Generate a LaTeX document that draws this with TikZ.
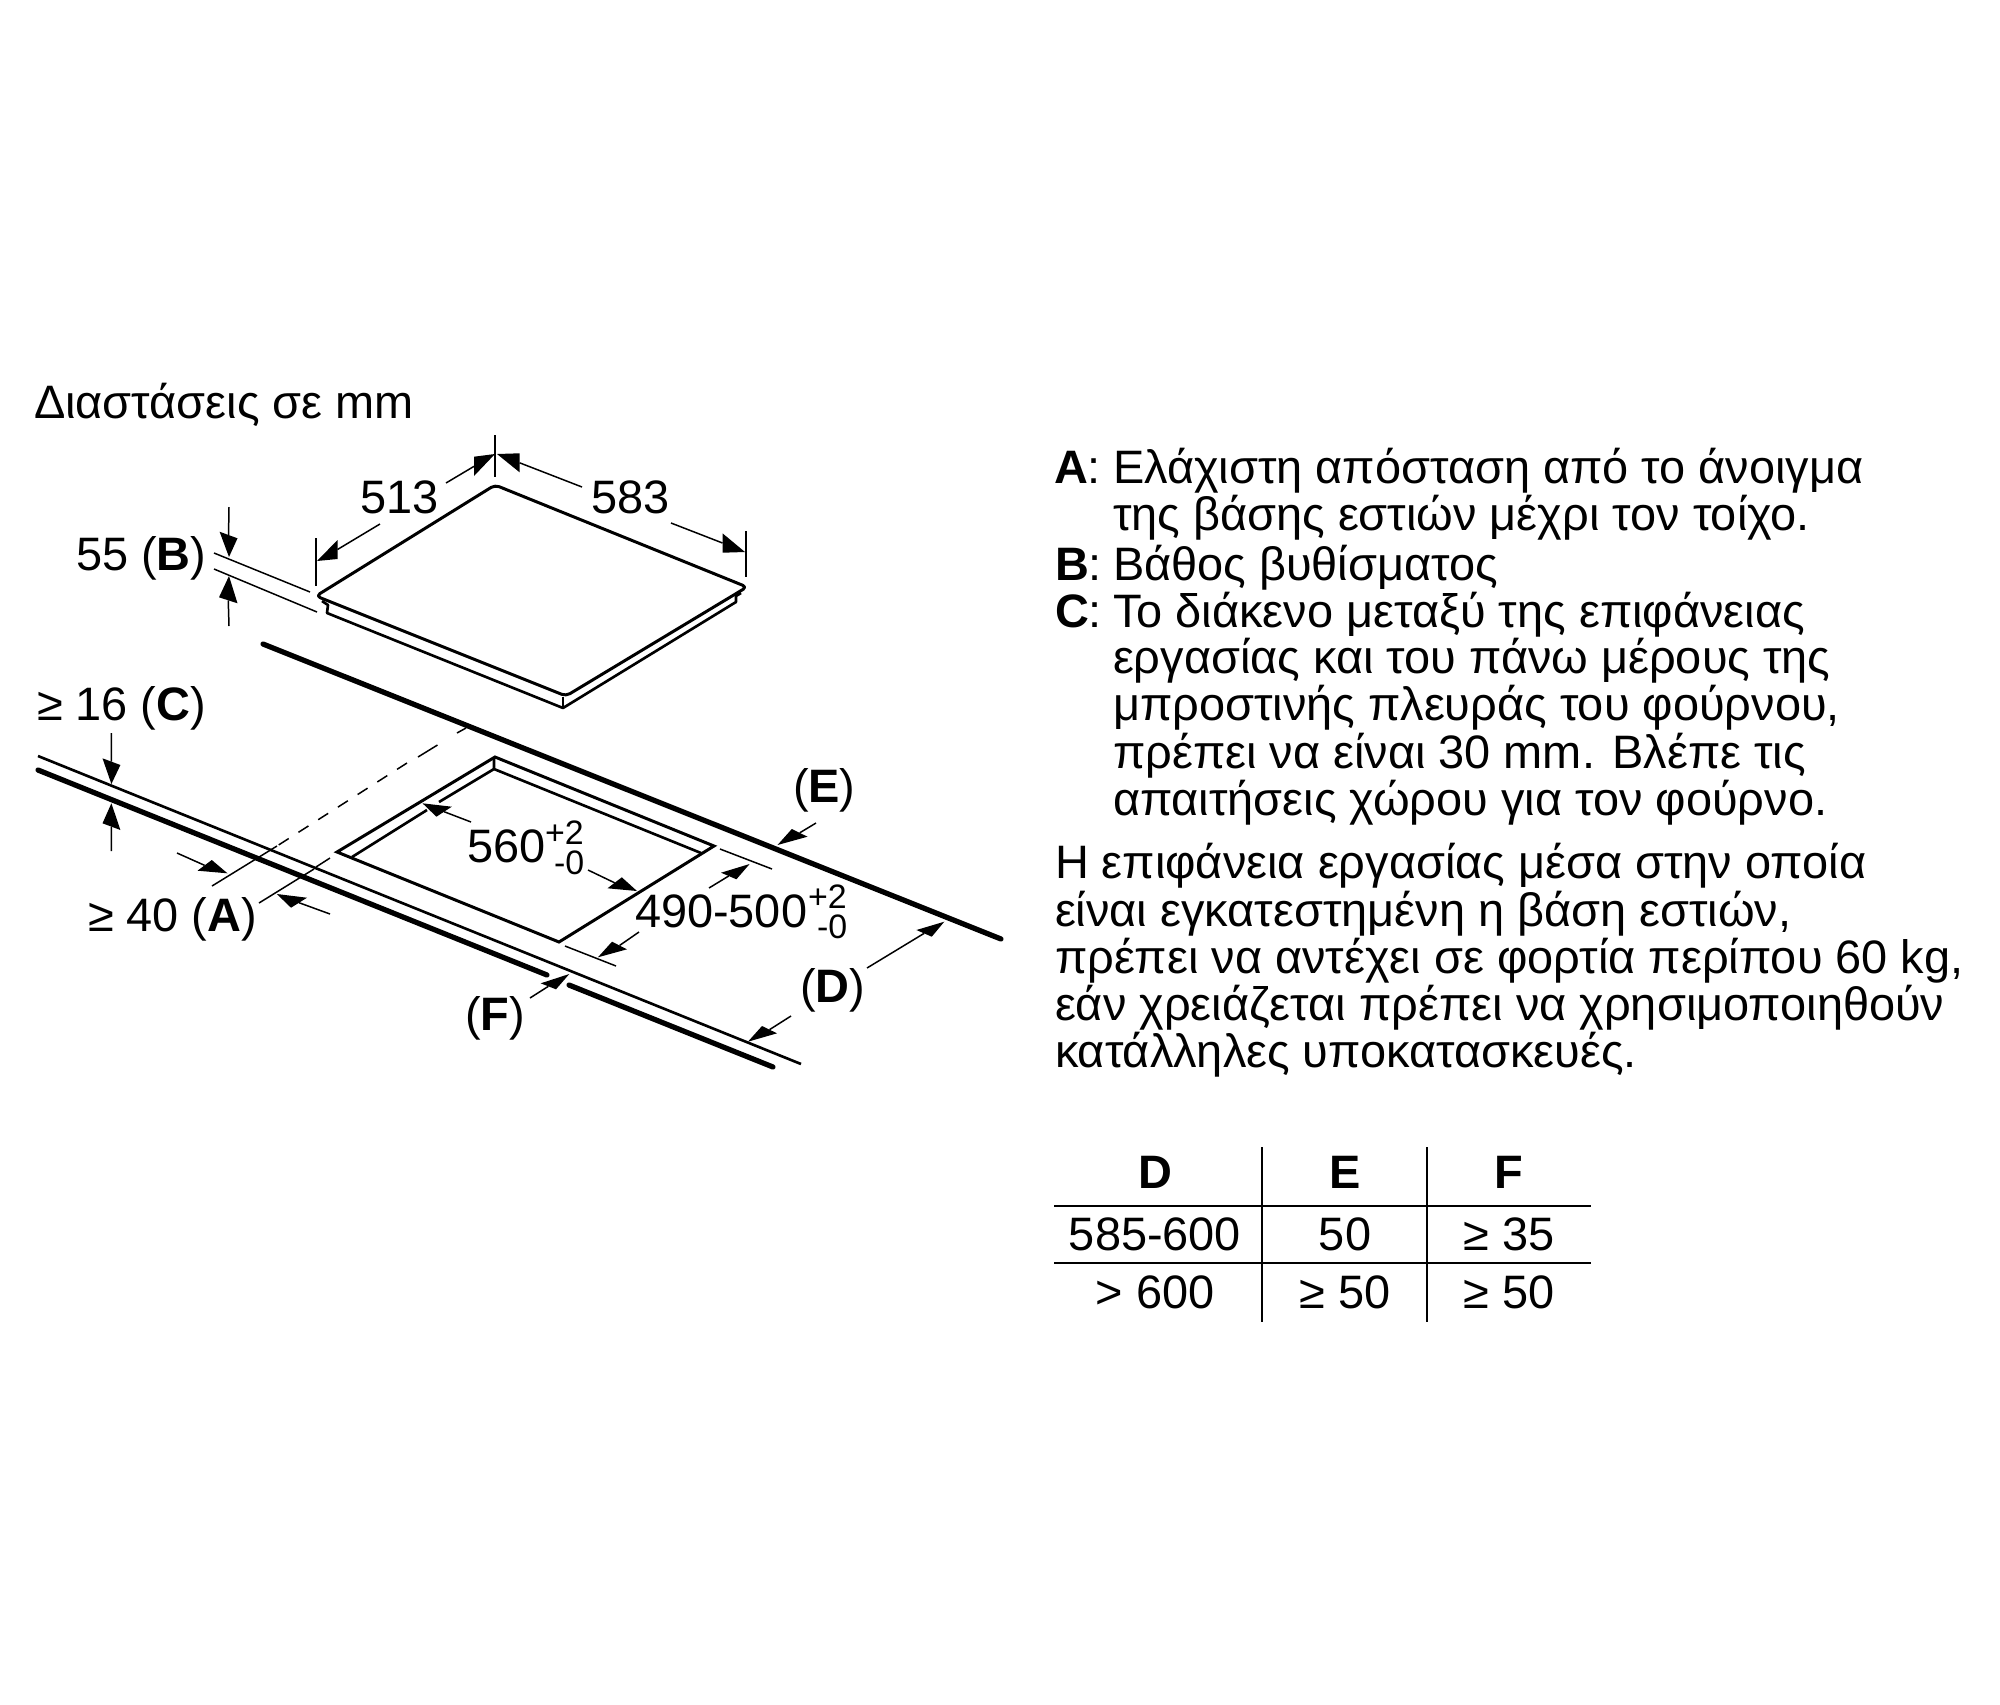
\documentclass[tikz,border=0pt]{standalone}
\usepackage{fontspec}
\setmainfont{Liberation Sans}
\usetikzlibrary{calc}
\newcommand\dimline[4]{\draw[thinl] (#1) -- ($(#3)!.5!(#4)$); \fill (#2) -- (#3) -- (#4) -- cycle;}
\tikzset{
  txt/.style={inner sep=0pt,outer sep=0pt,anchor=base west,text=black,font=\fontsize{26.7}{31}\selectfont},
  ctr/.style={txt,anchor=base},
  supt/.style={txt,font=\fontsize{19.3}{22}\selectfont},
  thinl/.style={line width=0.85pt,line cap=butt},
  outl/.style={line width=1.7pt,line join=round},
  heavy/.style={line width=3.0pt,line cap=round},
  dashline/.style={line width=0.85pt,dash pattern=on 0.236cm off 0.232cm},
  tabrule/.style={line width=1.25pt}
}
\begin{document}
\begin{tikzpicture}[x=0.02cm,y=-0.02cm]
\useasboundingbox (0,0) rectangle (2000,1704);
\fill[white] (0,0) rectangle (2000,1704);

% Hob
\draw[outl,rounded corners=0.09cm] (316,596) -- (495,485) -- (747,587) -- (566,696) -- cycle;
\draw[outl,line width=1.5pt] (322,601) -- (328,605) -- (327,613) -- (563,708) -- (736,602) -- (736,596) -- (741,593);
\draw[outl,line width=1.5pt] (563,697) -- (563,708);

% Worktop edges
\draw[heavy] (263,644) -- (1001,939);
\draw[line width=1.5pt] (38,756) -- (801,1064);
\draw[heavy] (38,770) -- (547,975);
\draw[heavy] (569,985) -- (773,1067);

% Cut-out
\draw[outl,line join=miter] (337,852) -- (495,757) -- (714,846) -- (559,942) -- cycle;
\draw[outl,line width=1.5pt] (494,757) -- (494,769) -- (701,853);
\draw[outl,line width=1.5pt] (494,769) -- (439,802);
\draw[outl,line width=1.5pt] (427,810) -- (352,857);

% Dashed and extension lines
\draw[thinl] (466,728) -- (457,733);
\draw[thinl] (437.5,745) -- (418,757);
\draw[dashline] (407,763) -- (277,846);
\draw[thinl] (277,846) -- (212,886);
\draw[thinl] (330,858) -- (316,867);
\draw[thinl] (314,869) -- (259,903);
\draw[thinl] (214,553) -- (310,592);
\draw[thinl] (214,569) -- (317,612);
\draw[thinl] (316,538) -- (316,586);
\draw[thinl] (495,435) -- (495,477);
\draw[thinl] (746,531) -- (746,577);
\draw[thinl] (720,849) -- (772,869);
\draw[thinl] (565,946) -- (616,966);

% Dimension arrows: free end, tip, two base corners
\dimline{229,507}{229,557}{219.6,531.7}{237.5,538.3}
\dimline{229,626}{229,576}{219,597.3}{237.5,603.3}
\dimline{380,524}{317,561}{337.5,540}{337.5,559}
\dimline{446,483}{495,454}{474,456.7}{474,476}
\dimline{582,487}{497,454}{519.6,453.3}{519.6,472.3}
\dimline{671,523}{745,552}{722.5,533.3}{722.5,552.7}
\dimline{111.4,733}{111.4,784}{102.5,758.3}{120.4,765}
\dimline{111.4,851}{111.4,803.3}{102.5,823.3}{120.4,830}
\dimline{177,853}{227.5,873.3}{211.8,860}{197.5,870.7}
\dimline{330,914}{276.8,894}{307,897.7}{291,907.7}
\dimline{471,822}{422.5,803.3}{451.8,806.7}{436.4,816.7}
\dimline{588,870}{637,891}{621.8,877.3}{607.5,888.3}
\dimline{709,888}{749.6,864}{721,872.7}{736.4,879.3}
\dimline{639,932}{597.9,957.3}{612,941.7}{627,949.3}
\dimline{816,823}{777.5,845}{791.8,829}{807.5,836.7}
\dimline{867,968}{944.3,921.7}{916.4,930}{931.8,936.7}
\dimline{791,1016}{747.9,1041.7}{762,1026}{777,1033.3}
\dimline{530,998}{569.3,974}{540.7,983.3}{556,989.3}

% Drawing labels
\node[txt] (title) at (34,418) {Διαστάσεις σε mm};
\node[txt] (d513) at (360,513) {513};
\node[txt] (d583) at (591,513) {583};
\node[txt] (lb) at (76,570) {55 ({\bfseries B})};
\node[txt] (lc) at (37,720) {≥ 16 ({\bfseries C})};
\node[txt] (la) at (88,931) {≥ 40 ({\bfseries A})};
\node[txt] (lf) at (465,1030) {({\bfseries F})};
\node[txt] (le) at (793,802) {({\bfseries E})};
\node[txt] (ld) at (800,1002) {({\bfseries D})};
\node[txt] (d560) at (467,862) {560};
\node[supt] (s560a) at (545,844) {+2};
\node[supt] (s560b) at (554,874) {-0};
\node[txt] (d490) at (635,927) {490-500};
\node[supt] (s490a) at (808,908) {+2};
\node[supt] (s490b) at (817,938) {-0};

% Legend
\node[txt] (ka) at (1054,483) {{\bfseries A}:};
\node[txt] (ta1) at (1113,483) {Ελάχιστη απόσταση από το άνοιγμα};
\node[txt] (ta2) at (1113,530) {της βάσης εστιών μέχρι τον τοίχο.};
\node[txt] (kb) at (1055,580) {{\bfseries B}:};
\node[txt] (tb1) at (1113,580) {Βάθος βυθίσματος};
\node[txt] (kc) at (1055,627) {{\bfseries C}:};
\node[txt] (tc1) at (1113,627) {Το διάκενο μεταξύ της επιφάνειας};
\node[txt] (tc2) at (1113,673) {εργασίας και του πάνω μέρους της};
\node[txt] (tc3) at (1113,720) {μπροστινής πλευράς του φούρνου,};
\node[txt] (tc4) at (1113,768) {πρέπει να είναι 30 mm. Βλέπε τις};
\node[txt] (tc5) at (1113,815) {απαιτήσεις χώρου για τον φούρνο.};
\node[txt] (p1) at (1055,878) {Η επιφάνεια εργασίας μέσα στην οποία};
\node[txt] (p2) at (1055,926) {είναι εγκατεστημένη η βάση εστιών,};
\node[txt] (p3) at (1055,973) {πρέπει να αντέχει σε φορτία περίπου 60 kg,};
\node[txt] (p4) at (1055,1020) {εάν χρειάζεται πρέπει να χρησιμοποιηθούν};
\node[txt] (p5) at (1055,1067) {κατάλληλες υποκατασκευές.};

% Table
\draw[tabrule] (1262,1147) -- (1262,1322);
\draw[tabrule] (1427,1147) -- (1427,1322);
\draw[tabrule] (1054,1206) -- (1591,1206);
\draw[tabrule] (1054,1263) -- (1591,1263);
\node[ctr] (hd) at (1155,1188) {\bfseries D};
\node[ctr] (he) at (1345,1188) {\bfseries E};
\node[ctr] (hf) at (1509,1188) {\bfseries F};
\node[ctr] (r1d) at (1155,1250) {585-600};
\node[ctr] (r1e) at (1345,1250) {50};
\node[ctr] (r1f) at (1509,1250) {≥ 35};
\node[ctr] (r2d) at (1155,1308) {> 600};
\node[ctr] (r2e) at (1345,1308) {≥ 50};
\node[ctr] (r2f) at (1509,1308) {≥ 50};
\end{tikzpicture}
\end{document}
